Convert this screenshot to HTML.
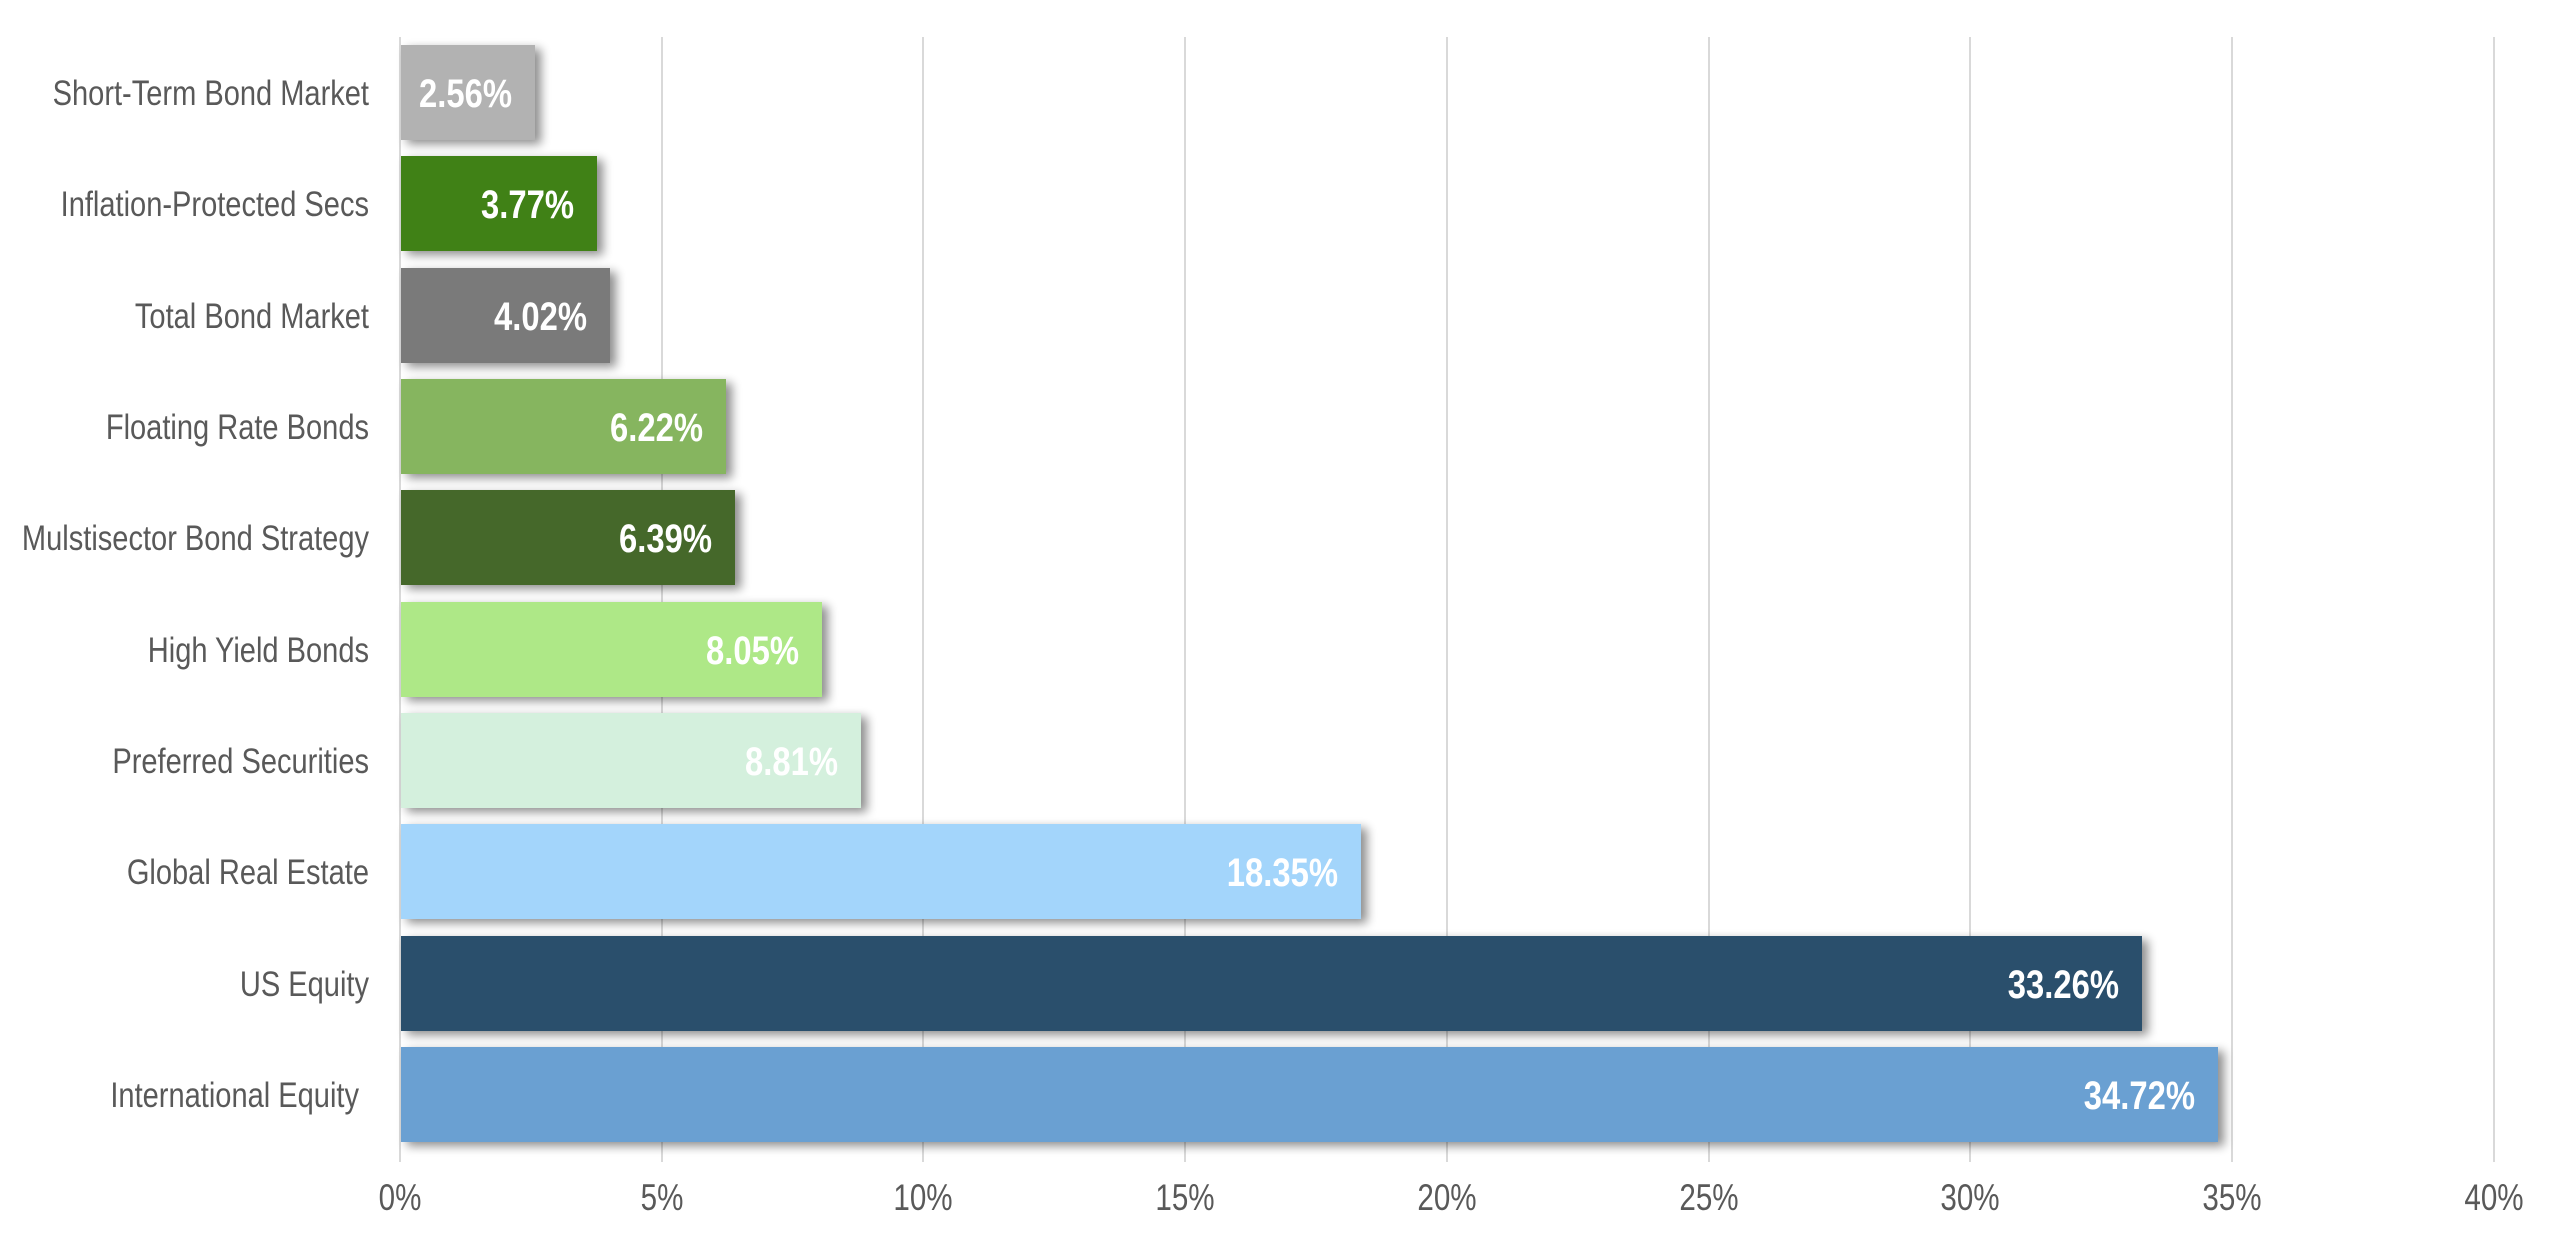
<!DOCTYPE html>
<html><head><meta charset="utf-8"><style>
html,body{margin:0;padding:0;background:#fff;}
svg{display:block;}
</style></head><body>
<svg width="2560" height="1238" viewBox="0 0 2560 1238" xmlns="http://www.w3.org/2000/svg">
<defs>
<filter id="sh" x="-5%" y="-20%" width="115%" height="150%">
<feGaussianBlur in="SourceAlpha" stdDeviation="5"/>
<feOffset dx="6" dy="4" result="b"/>
<feComponentTransfer><feFuncA type="linear" slope="0.45"/></feComponentTransfer>
<feMerge><feMergeNode/><feMergeNode in="SourceGraphic"/></feMerge>
</filter>
</defs>
<g stroke="#d9d9d9" stroke-width="2">
<line x1="400" y1="37" x2="400" y2="1162"/>
<line x1="662" y1="37" x2="662" y2="1162"/>
<line x1="923" y1="37" x2="923" y2="1162"/>
<line x1="1185" y1="37" x2="1185" y2="1162"/>
<line x1="1447" y1="37" x2="1447" y2="1162"/>
<line x1="1709" y1="37" x2="1709" y2="1162"/>
<line x1="1970" y1="37" x2="1970" y2="1162"/>
<line x1="2232" y1="37" x2="2232" y2="1162"/>
<line x1="2494" y1="37" x2="2494" y2="1162"/>
</g>
<g filter="url(#sh)">
<rect x="401" y="45" width="134" height="95" fill="#b2b2b2"/>
<rect x="401" y="156" width="196" height="95" fill="#3f8114"/>
<rect x="401" y="268" width="209" height="95" fill="#7a7a7a"/>
<rect x="401" y="379" width="325" height="95" fill="#86b55f"/>
<rect x="401" y="490" width="334" height="95" fill="#44672a"/>
<rect x="401" y="602" width="421" height="95" fill="#aee887"/>
<rect x="401" y="713" width="460" height="95" fill="#d4f0dd"/>
<rect x="401" y="824" width="960" height="95" fill="#a3d5fb"/>
<rect x="401" y="936" width="1741" height="95" fill="#2b4f6c"/>
<rect x="401" y="1047" width="1817" height="95" fill="#6aa0d2"/>
</g>
<g font-family="Liberation Sans, Arial, sans-serif" font-weight="bold" font-size="40" fill="#fff" text-anchor="end">
<text transform="translate(512,107) scale(0.82,1)">2.56%</text>
<text transform="translate(574,218) scale(0.82,1)">3.77%</text>
<text transform="translate(587,330) scale(0.82,1)">4.02%</text>
<text transform="translate(703,441) scale(0.82,1)">6.22%</text>
<text transform="translate(712,552) scale(0.82,1)">6.39%</text>
<text transform="translate(799,664) scale(0.82,1)">8.05%</text>
<text transform="translate(838,775) scale(0.82,1)">8.81%</text>
<text transform="translate(1338,886) scale(0.82,1)">18.35%</text>
<text transform="translate(2119,998) scale(0.82,1)">33.26%</text>
<text transform="translate(2195,1109) scale(0.82,1)">34.72%</text>
</g>
<g font-family="Liberation Sans, Arial, sans-serif" font-size="35" fill="#595959" text-anchor="end">
<text transform="translate(369,105) scale(0.83,1)">Short-Term Bond Market</text>
<text transform="translate(369,216) scale(0.83,1)">Inflation-Protected Secs</text>
<text transform="translate(369,328) scale(0.83,1)">Total Bond Market</text>
<text transform="translate(369,439) scale(0.83,1)">Floating Rate Bonds</text>
<text transform="translate(369,550) scale(0.83,1)">Mulstisector Bond Strategy</text>
<text transform="translate(369,662) scale(0.83,1)">High Yield Bonds</text>
<text transform="translate(369,773) scale(0.83,1)">Preferred Securities</text>
<text transform="translate(369,884) scale(0.83,1)">Global Real Estate</text>
<text transform="translate(369,996) scale(0.83,1)">US Equity</text>
<text transform="translate(359,1107) scale(0.83,1)">International Equity</text>
</g>
<g font-family="Liberation Sans, Arial, sans-serif" font-size="37" fill="#595959" text-anchor="middle">
<text transform="translate(400,1210) scale(0.8,1)">0%</text>
<text transform="translate(662,1210) scale(0.8,1)">5%</text>
<text transform="translate(923,1210) scale(0.8,1)">10%</text>
<text transform="translate(1185,1210) scale(0.8,1)">15%</text>
<text transform="translate(1447,1210) scale(0.8,1)">20%</text>
<text transform="translate(1709,1210) scale(0.8,1)">25%</text>
<text transform="translate(1970,1210) scale(0.8,1)">30%</text>
<text transform="translate(2232,1210) scale(0.8,1)">35%</text>
<text transform="translate(2494,1210) scale(0.8,1)">40%</text>
</g>
</svg>
</body></html>
